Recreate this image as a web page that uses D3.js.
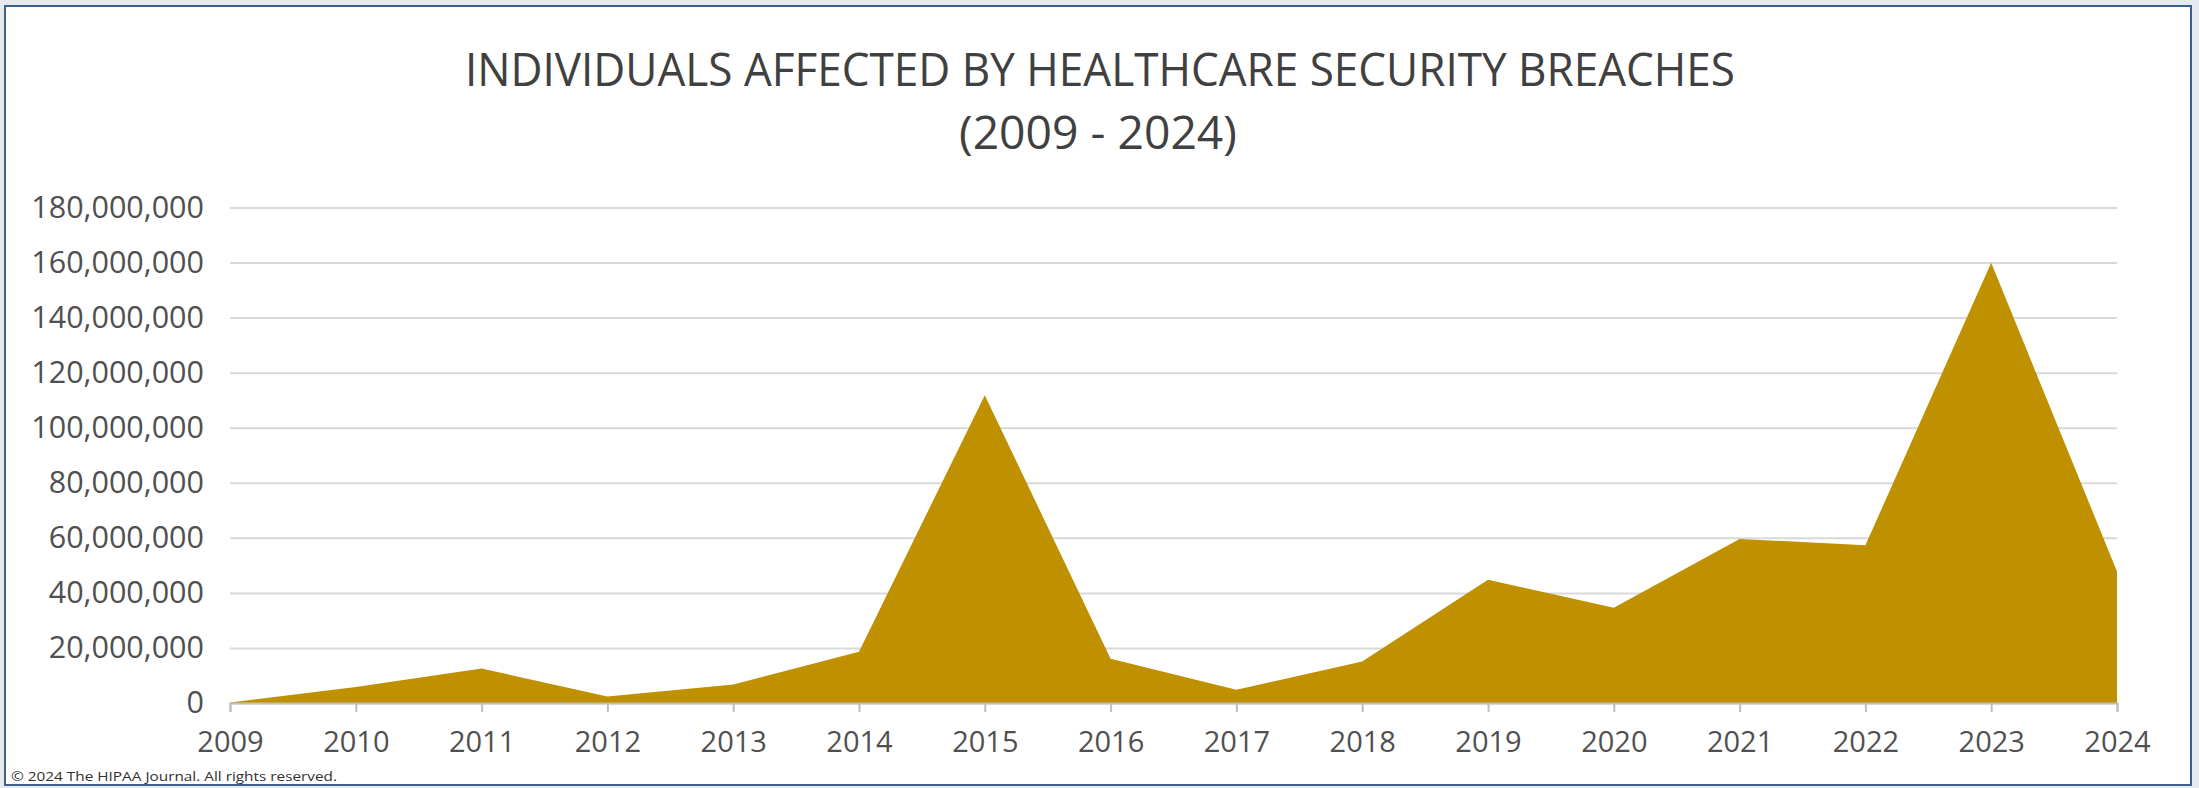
<!DOCTYPE html>
<html>
<head>
<meta charset="utf-8">
<script src="https://cdn.jsdelivr.net/npm/d3@7/dist/d3.min.js"></script>
<style>
  html, body { margin: 0; padding: 0; background: #e6eaef; overflow: hidden; }
  svg { display: block; }
  .axis text { font-family: "Open Sans", "Noto Sans", sans-serif; fill: #505050; }
</style>
</head>
<body>
<div id="chart"></div>
<script>
// data
const years = [2009, 2010, 2011, 2012, 2013, 2014, 2015, 2016, 2017, 2018, 2019, 2020, 2021, 2022, 2023, 2024];
const individuals = [200000, 5800000, 12500000, 2400000, 6700000, 18600000, 111800000, 16100000,
                     4800000, 15100000, 44800000, 34600000, 59600000, 57300000, 159900000, 47800000];
const yTicks = [0, 20000000, 40000000, 60000000, 80000000, 100000000, 120000000, 140000000, 160000000, 180000000];
const titleLines = ["INDIVIDUALS AFFECTED BY HEALTHCARE SECURITY BREACHES", "(2009 - 2024)"];
const copyright = "\u00A9 2024 The HIPAA Journal. All rights reserved.";

const W = 2199;
const H = 788;
var margin = {top: 207.5, right: 82, bottom: 85, left: 230};
const w = W - margin.left - margin.right;
const h = H - margin.top - margin.bottom;

//---------------------------------------------svg + frame-----------------------------------------
var svg = d3.select("#chart")
            .append("svg")
              .attr("width", W)
              .attr("height", H);

svg.append("rect")
   .attr("x", 5)
   .attr("y", 6)
   .attr("width", 2186)
   .attr("height", 779)
   .attr("fill", "#ffffff")
   .attr("stroke", "#3f5f90")
   .attr("stroke-width", 2);

//---------------------------------------------title-----------------------------------------------
svg.append("text")
   .attr("x", 1100)
   .attr("y", 86)
   .attr("text-anchor", "middle")
   .attr("textLength", 1270)
   .attr("lengthAdjust", "spacingAndGlyphs")
   .style("font-family", "'Open Sans', 'Noto Sans', sans-serif")
   .style("font-size", "45px")
   .style("fill", "#404040")
   .text(titleLines[0]);

svg.append("text")
   .attr("x", 1098)
   .attr("y", 149)
   .attr("text-anchor", "middle")
   .attr("textLength", 278)
   .attr("lengthAdjust", "spacingAndGlyphs")
   .style("font-family", "'Open Sans', 'Noto Sans', sans-serif")
   .style("font-size", "45px")
   .style("fill", "#404040")
   .text(titleLines[1]);

//---------------------------------------------scales----------------------------------------------
var x = d3.scaleLinear()
          .domain([years[0], years[years.length - 1]])
          .range([0, w]);

var y = d3.scaleLinear()
          .domain([0, 180000000])
          .range([h, 0]);

var g = svg.append("g")
           .attr("transform", "translate(" + margin.left + "," + margin.top + ")");

//---------------------------------------------gridlines + y axis----------------------------------
var yAxis = g.append("g")
             .attr("class", "y axis")
             .call(d3.axisLeft(y)
                     .tickValues(yTicks)
                     .tickSize(-w)
                     .tickPadding(26)
                     .tickFormat(d3.format(",")));

yAxis.select(".domain").remove();
yAxis.selectAll("line")
     .attr("stroke", "#d9d9d9")
     .attr("stroke-width", 2);
yAxis.selectAll("text")
     .style("font-size", "30.5px");

//---------------------------------------------area------------------------------------------------
let dataset = years.map((d, i) => ({year: d, value: individuals[i]}));

var area = d3.area()
             .x((d) => x(d.year))
             .y0(h)
             .y1((d) => y(d.value));

g.append("path")
 .datum(dataset)
 .attr("d", area)
 .attr("fill", "#bf9000");

//---------------------------------------------x axis----------------------------------------------
var xAxis = g.append("g")
             .attr("class", "x axis")
             .attr("transform", "translate(0," + h + ")")
             .call(d3.axisBottom(x)
                     .tickValues(years)
                     .tickSize(9)
                     .tickPadding(19)
                     .tickFormat(d3.format("d")));

xAxis.select(".domain")
     .attr("stroke", "#bfbfbf")
     .attr("stroke-width", 2);
xAxis.selectAll("line")
     .attr("stroke", "#bfbfbf")
     .attr("stroke-width", 2);
xAxis.selectAll("text")
     .style("font-size", "29px");

//---------------------------------------------copyright-------------------------------------------
svg.append("text")
   .attr("x", 11)
   .attr("y", 781)
   .attr("textLength", 326)
   .attr("lengthAdjust", "spacingAndGlyphs")
   .style("font-family", "'Open Sans', 'Noto Sans', sans-serif")
   .style("font-size", "13px")
   .style("fill", "#303030")
   .text(copyright);
</script>
</body>
</html>
